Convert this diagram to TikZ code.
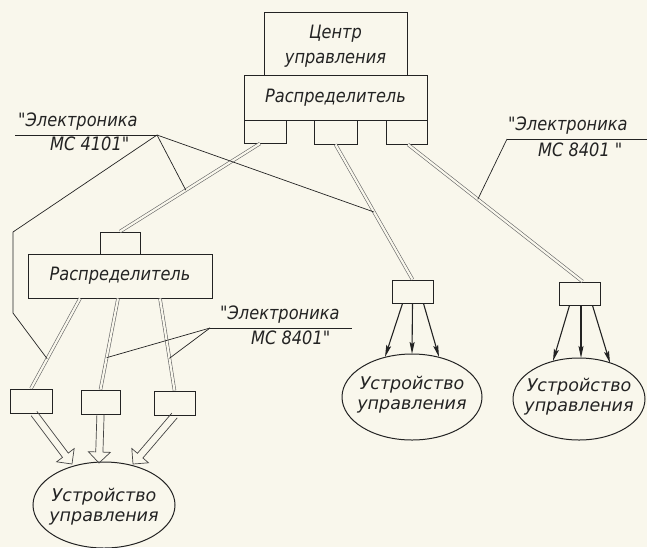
\documentclass[tikz,border=0pt]{standalone}
\usepackage{fontspec}
\newfontfamily\gost{DejaVu Sans}[FakeStretch=0.88]
\newfontfamily\gostw{DejaVu Sans}
\usetikzlibrary{calc,arrows.meta,shapes.geometric}
\definecolor{paper}{RGB}{249,247,236}
\definecolor{ink}{RGB}{35,35,35}
\tikzset{
  txt/.style={font=\gost\itshape\fontsize{18.4}{25}\selectfont, text=ink, align=center},
  etxt/.style={font=\gostw\itshape\fontsize{17.5}{20}\selectfont, text=ink, align=center},
  boxn/.style={draw=ink, line width=1pt, inner sep=0pt, txt},
  ell/.style={ellipse, draw=ink, line width=1pt, inner sep=0pt},
  cable/.style={draw=ink!70, line width=0.6pt, double=paper, double distance=2.2pt},
  leader/.style={draw=ink, line width=0.7pt},
  thinarr/.style={draw=ink, line width=1.1pt, -{Stealth[length=12pt,width=5pt,inset=2pt]}},
  arrline/.style={draw=ink!85, line width=0.7pt, line join=miter},
  lab/.style={txt, inner sep=0pt}
}
\newcommand\blockarr[2]{%
  \coordinate (ba) at ($(#2)!11pt!(#1)$);
  \draw[arrline] ($(#1)!3.6pt!90:(#2)$) -- ($(ba)!3.6pt!90:(#2)$) -- ($(ba)!11pt!90:(#2)$)
     -- (#2) -- ($(ba)!11pt!-90:(#2)$) -- ($(ba)!3.6pt!-90:(#2)$) -- ($(#1)!3.6pt!-90:(#2)$);
}
\begin{document}
\begin{tikzpicture}[x=1pt,y=-1pt]
\fill[paper] (0,0) rectangle (647,547);
\useasboundingbox (0,0) rectangle (647,547);

% top group
\node[boxn, minimum width=143pt, minimum height=63pt] (cu) at (335.5,43.5) {};
\node[txt] (cut) at (335.5,46) {Центр\\управления};
\node[boxn, fill=paper, minimum width=183pt, minimum height=45pt] (d1) at (335.5,97.5) {Распределитель};
\node[boxn, minimum width=42pt, minimum height=23pt] (s1) at (265,131.5) {};
\node[boxn, minimum width=43pt, minimum height=24pt] (s2) at (335.5,132) {};
\node[boxn, minimum width=41pt, minimum height=24pt] (s3) at (406.5,132) {};

% left group
\node[boxn, minimum width=40pt, minimum height=22pt] (t2) at (120,243) {};
\node[boxn, minimum width=184pt, minimum height=44pt] (d2) at (120,276) {Распределитель};
\node[boxn, minimum width=42pt, minimum height=24pt] (b1) at (31,401) {};
\node[boxn, minimum width=39pt, minimum height=24pt] (b2) at (100.5,402) {};
\node[boxn, minimum width=41pt, minimum height=24pt] (b3) at (174.5,403) {};
\node[ell, minimum width=142pt, minimum height=86pt] (e1) at (104,505) {};
\node[etxt] (e1t) at (104,507) {Устройство\\управления};

% right group
\node[boxn, minimum width=41pt, minimum height=23pt] (r1) at (412.5,291.5) {};
\node[boxn, minimum width=41pt, minimum height=23pt] (r2) at (579.5,293.5) {};
\node[ell, minimum width=140pt, minimum height=86pt] (e2) at (412,397) {};
\node[etxt] (e2t) at (412,395) {Устройство\\управления};
\node[ell, minimum width=132pt, minimum height=82pt] (e3) at (579,399) {};
\node[etxt] (e3t) at (579,397) {Устройство\\управления};

% cables
\coordinate (c1a) at ([xshift=-5pt]s1.south);
\coordinate (c3a) at ([xshift=1.5pt]s3.south);
\coordinate (c3b) at ([xshift=3pt]r2.north);
\coordinate (k1a) at ([xshift=-40pt]d2.south);
\coordinate (k2a) at ([xshift=-2pt]d2.south);
\coordinate (k3a) at ([xshift=40pt]d2.south);
\draw[cable] (c1a) -- (t2.north);
\draw[cable] (s2.south) -- (r1.north);
\draw[cable] (c3a) -- (c3b);
\draw[cable] (k1a) -- (b1.north);
\draw[cable] (k2a) -- (b2.north);
\draw[cable] (k3a) -- (b3.north);

% thin arrows
\draw[thinarr] ([xshift=-10pt]r1.south) -- ($(e2.center)+(-27,-40)$);
\draw[thinarr] (r1.south) -- ($(e2.center)+(0,-43)$);
\draw[thinarr] ([xshift=11pt]r1.south) -- ($(e2.center)+(27,-40)$);
\draw[thinarr] ([xshift=-10pt]r2.south) -- ($(e3.center)+(-26,-38)$);
\draw[thinarr] ([xshift=1.5pt]r2.south) -- ($(e3.center)+(2,-41)$);
\draw[thinarr] ([xshift=13pt]r2.south) -- ($(e3.center)+(31,-36)$);

% block arrows
\coordinate (tp1) at ($(e1.center)+(-32,-41)$);
\coordinate (tp2) at ($(e1.center)+(-5,-42)$);
\coordinate (tp3) at ($(e1.center)+(29,-41)$);
\coordinate (bs1) at ([xshift=3pt]b1.south);
\blockarr{bs1}{tp1}
\blockarr{b2.south}{tp2}
\blockarr{b3.south}{tp3}

% label 1
\node[lab, anchor=south west] (l1a) at (18,131) {"Электроника};
\node[lab, anchor=north west] (l1b) at (50,137) {МС 4101"};
\coordinate (u1s) at (15,135);
\coordinate (u1e) at (157,135);
\coordinate (q1) at (13,232);
\coordinate (q2) at (13,313);
\draw[leader] (u1s) -- (u1e);
\draw[leader] (u1e) -- (q1) -- (q2) -- ($(k1a)!0.67!(b1.north)$);
\draw[leader] (u1e) -- ($(c1a)!0.53!(t2.north)$);
\draw[leader] (u1e) -- ($(s2.south)!0.5!(r1.north)$);

% label 2
\node[lab, anchor=south west] (l2a) at (508,135) {"Электроника};
\node[lab, anchor=north west] (l2b) at (538,143) {МС 8401 "};
\coordinate (u2s) at (507,139);
\coordinate (u2e) at (647,139);
\draw[leader] (u2s) -- (u2e);
\draw[leader] (u2s) -- ($(c3a)!0.4!(c3b)$);

% label 3
\node[lab, anchor=south west] (l3a) at (220,324) {"Электроника};
\node[lab, anchor=north west] (l3b) at (251,331) {МС 8401"};
\coordinate (u3s) at (210,328);
\coordinate (u3e) at (352,328);
\draw[leader] (u3s) -- (u3e);
\draw[leader] (u3s) -- ($(k2a)!0.65!(b2.north)$);
\draw[leader] (u3s) -- ($(k3a)!0.65!(b3.north)$);
\end{tikzpicture}
\end{document}
